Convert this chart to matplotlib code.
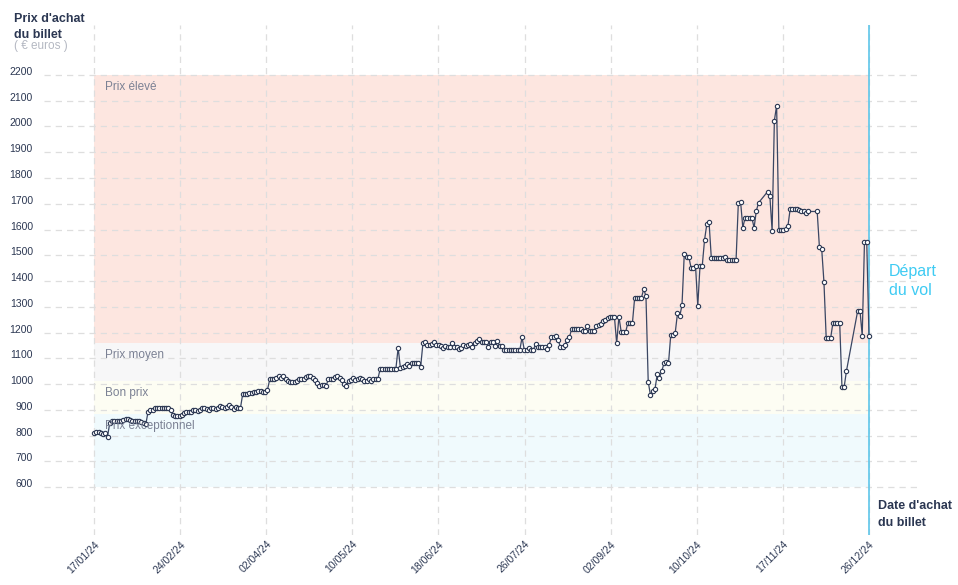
import matplotlib
matplotlib.use("Agg")
import matplotlib.pyplot as plt
import numpy as np
import pandas as pd

plt.rcParams['font.family'] = ['Liberation Sans', 'DejaVu Sans']

# ---------------- data ----------------
start_date = "2024-01-17"
end_offset = 344  # 26/12/24

# daily prices, day offsets 0..295
prices_main = [
    810, 812, 812, 810, 808, 810, 796, 850, 855, 855,
    856, 855, 858, 862, 866, 866, 862, 858, 858, 856,
    855, 852, 850, 844, 893, 898, 900, 906, 908, 907,
    907, 907, 906, 906, 900, 880, 876, 876, 876, 878,
    886, 893, 893, 893, 898, 898, 895, 900, 907, 907,
    903, 900, 906, 907, 903, 908, 914, 912, 908, 912,
    918, 910, 903, 910, 907, 907, 961, 963, 963, 965,
    965, 968, 968, 975, 975, 968, 968, 978, 1018, 1018,
    1018, 1025, 1031, 1025, 1031, 1020, 1012, 1008, 1008, 1008,
    1012, 1020, 1020, 1020, 1028, 1031, 1031, 1024, 1015, 1004,
    993, 995, 998, 991, 1020, 1020, 1020, 1027, 1031, 1024,
    1015, 1000, 993, 1010, 1015, 1024, 1015, 1020, 1024, 1018,
    1012, 1012, 1020, 1012, 1018, 1020, 1020, 1058, 1058, 1058,
    1058, 1058, 1060, 1060, 1060, 1141, 1063, 1065, 1072, 1078,
    1070, 1083, 1083, 1083, 1083, 1068, 1158, 1163, 1150, 1150,
    1155, 1163, 1150, 1150, 1148, 1140, 1148, 1143, 1143, 1160,
    1143, 1145, 1138, 1140, 1150, 1148, 1152, 1155, 1145, 1158,
    1168, 1175, 1165, 1162, 1162, 1145, 1165, 1165, 1148, 1167,
    1148, 1148, 1132, 1132, 1132, 1132, 1132, 1132, 1132, 1132,
    1181, 1132, 1132, 1140, 1132, 1132, 1155, 1143, 1143, 1143,
    1143, 1135, 1150, 1181, 1181, 1187, 1173, 1143, 1143, 1150,
    1173, 1181, 1213, 1213, 1213, 1213, 1213, 1207, 1207, 1227,
    1207, 1207, 1207, 1227, 1229, 1235, 1246, 1249, 1256, 1260,
    1262, 1262, 1158, 1262, 1203, 1203, 1203, 1238, 1238, 1238,
    1336, 1336, 1333, 1336, 1368, 1342, 1009, 957, 975, 980,
    1038, 1025, 1050, 1080, 1085, 1080, 1190, 1190, 1200, 1275,
    1263, 1307, 1504, 1495, 1495, 1452, 1452, 1460, 1303, 1460,
    1460, 1559, 1620, 1630, 1491, 1491, 1491, 1491, 1491, 1491,
    1495, 1482, 1482, 1482, 1482, 1482, 1702, 1708, 1607, 1646,
    1646, 1646, 1646, 1607, 1673, 1704,
]

late_days = [299, 300, 301, 302, 303, 304, 305, 306, 307, 308,
             309, 310, 311, 312, 313, 314, 315, 316, 317,
             321, 322, 323, 324, 325, 326, 327, 328, 329, 330, 331,
             332, 333, 334, 339, 340, 341, 342, 343, 344]
late_prices = [1747, 1730, 1595, 2023, 2081, 1598, 1598, 1598, 1602, 1612,
               1679, 1679, 1679, 1679, 1677, 1673, 1670, 1666, 1670,
               1670, 1531, 1526, 1397, 1180, 1180, 1180, 1238, 1238, 1238, 1238,
               990, 990, 1051, 1285, 1285, 1188, 1553, 1553, 1188]

x_tick_labels = ["17/01/24", "24/02/24", "02/04/24", "10/05/24", "18/06/24",
                 "26/07/24", "02/09/24", "10/10/24", "17/11/24", "26/12/24"]
y_ticks = [600, 700, 800, 900, 1000, 1100, 1200, 1300, 1400, 1500,
           1600, 1700, 1800, 1900, 2000, 2100, 2200]

band_names = ["Prix exceptionnel", "Bon prix", "Prix moyen", "Prix élevé"]
band_low = [600, 885, 1010, 1160]
band_high = [885, 1010, 1160, 2200]
band_colors = ["#f0fafd", "#fdfdf3", "#f7f7f8", "#fde6e0"]

days = list(range(len(prices_main))) + late_days
prices = prices_main + late_prices

# ---------------- figure ----------------
W, H = 958, 585
fig = plt.figure(figsize=(W / 100, H / 100), dpi=100)
ax = fig.add_axes([44 / W, 1 - 535 / H, (919 - 44) / W, (535 - 25) / H])

navy = "#2b3752"
ax.set_xlim(-22.2, 366.2)
ax.set_ylim(414, 2394)

# bands
for lo, hi, c, name in zip(band_low, band_high, band_colors, band_names):
    ax.fill_between([0, end_offset], [lo, lo], [hi, hi], color=c, lw=0, zorder=0.2)
    ax.annotate(name, xy=(0, hi), xytext=(11, -12), textcoords="offset pixels",
                ha="left", va="center", fontsize=8.5, color="#7b8194", zorder=4)

# grid
xt = np.linspace(0, end_offset, len(x_tick_labels))
ax.set_xticks(xt)
ax.set_xticklabels(x_tick_labels, rotation=45, ha="right", rotation_mode="anchor",
                   fontsize=7.5, color=navy)
ax.set_yticks(y_ticks)
ax.set_yticklabels([str(v) for v in y_ticks], fontsize=7.5, color=navy)
for t in ax.get_yticklabels():
    t.set_va("baseline")
ax.tick_params(axis="both", length=0)
ax.tick_params(axis="y", pad=8)
ax.tick_params(axis="x", pad=3)
ax.set_axisbelow(True)
ax.grid(True, color="#dedede", linestyle=(0, (5, 4)), linewidth=0.9)
for s in ax.spines.values():
    s.set_visible(False)

# departure line
ax.axvline(end_offset, color="#5ec6ea", lw=1.2, zorder=2)

# data
ax.plot(days, prices, color="#3a4663", lw=0.9, zorder=3,
        marker="o", markersize=3.1, markerfacecolor="white",
        markeredgecolor="#2b3752", markeredgewidth=0.8)

# texts
fig.text(14 / W, 1 - 13 / H, "Prix d'achat\ndu billet", ha="left", va="top",
         fontsize=9, fontweight="bold", color=navy, linespacing=1.5)
fig.text(14 / W, 1 - 46 / H, "( € euros )", ha="left", va="center",
         fontsize=8.5, color="#b4b8c2")
fig.text(889 / W, 1 - 281 / H, "Départ\ndu vol", ha="left", va="center",
         fontsize=11.5, color="#3ecbf3", linespacing=1.4)
fig.text(878 / W, 1 - 500 / H, "Date d'achat\ndu billet", ha="left", va="top",
         fontsize=9, fontweight="bold", color=navy, linespacing=1.5)

fig.savefig("out.png", dpi=100)
